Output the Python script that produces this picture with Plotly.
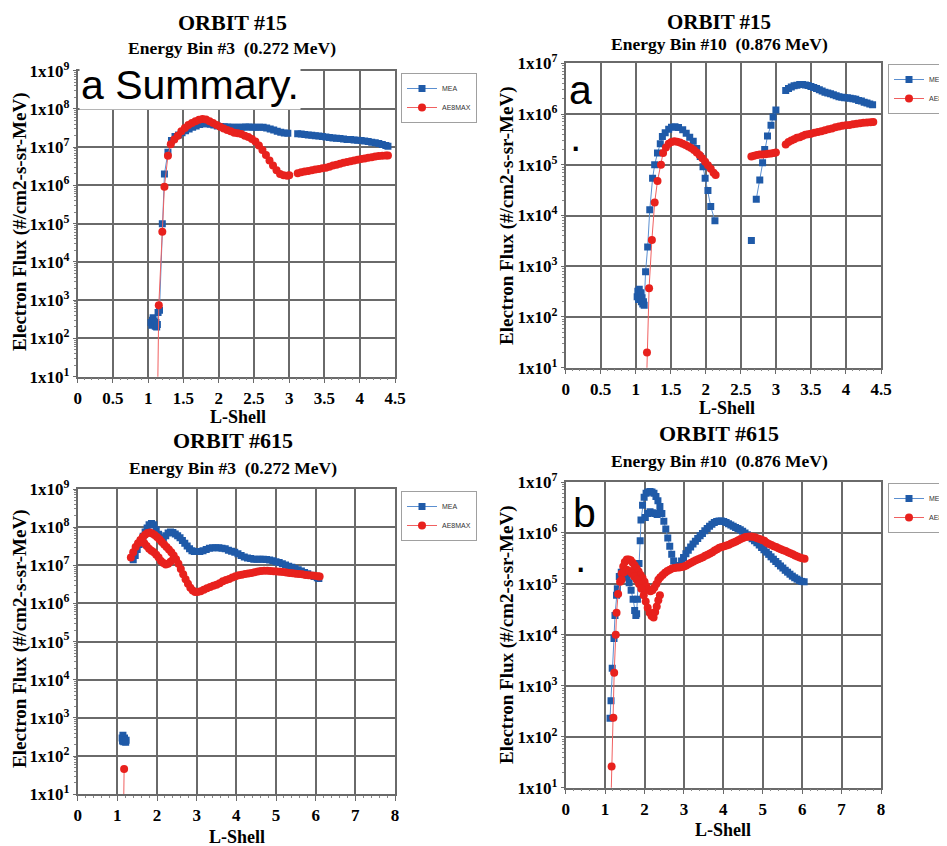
import plotly.graph_objects as go

# ---------------- DATA ----------------
# Panel 1: ORBIT #15, Energy Bin #3 (0.272 MeV)
p1_mea_x = [1.04, 1.05, 1.06, 1.07, 1.08, 1.09, 1.10, 1.11, 1.12, 1.13, 1.14, 1.16, 1.20, 1.23, 1.28,
            1.33, 1.38, 1.43, 1.48, 1.53, 1.58, 1.63, 1.68, 1.73, 1.78, 1.83, 1.88, 1.93, 1.98, 2.03,
            2.08, 2.13, 2.18, 2.23, 2.28, 2.33, 2.38, 2.43, 2.48, 2.53, 2.58, 2.63, 2.68, 2.73, 2.78,
            2.83, 2.88, 2.93, 2.98, None,
            3.12, 3.17, 3.22, 3.27, 3.32, 3.37, 3.42, 3.47, 3.52, 3.57, 3.62, 3.67, 3.72, 3.77, 3.82,
            3.87, 3.92, 3.97, 4.02, 4.07, 4.12, 4.17, 4.22, 4.27, 4.32, 4.37, 4.40]
p1_mea_y = [260, 220, 300, 350, 280, 230, 210, 260, 200, 230, 480, 550, 1.0e5, 2.0e6, 7.4e6,
            1.5e7, 1.9e7, 2.1e7, 2.4e7, 2.7e7, 3.0e7, 3.3e7, 3.6e7, 3.9e7, 4.1e7, 4.1e7, 4.0e7, 3.8e7, 3.6e7, 3.5e7,
            3.4e7, 3.35e7, 3.3e7, 3.3e7, 3.3e7, 3.3e7, 3.35e7, 3.35e7, 3.3e7, 3.3e7, 3.3e7, 3.3e7, 3.2e7, 3.0e7, 2.8e7,
            2.6e7, 2.45e7, 2.35e7, 2.3e7, None,
            2.25e7, 2.2e7, 2.15e7, 2.1e7, 2.05e7, 2.0e7, 1.95e7, 1.9e7, 1.85e7, 1.8e7, 1.75e7, 1.72e7, 1.68e7, 1.65e7, 1.6e7,
            1.58e7, 1.55e7, 1.52e7, 1.5e7, 1.45e7, 1.4e7, 1.35e7, 1.3e7, 1.25e7, 1.18e7, 1.1e7, 1.06e7]
p1_ae8_x = [1.13, 1.15, 1.20, 1.23, 1.28, 1.32, 1.37, 1.42, 1.47, 1.52, 1.57, 1.62, 1.67, 1.72, 1.77,
            1.82, 1.87, 1.92, 1.97, 2.02, 2.07, 2.12, 2.17, 2.22, 2.27, 2.32, 2.37, 2.42, 2.47, 2.52,
            2.57, 2.62, 2.67, 2.72, 2.77, 2.82, 2.87, 2.92, 2.97, 3.00, None,
            3.12, 3.17, 3.22, 3.27, 3.32, 3.37, 3.42, 3.47, 3.52, 3.57, 3.62, 3.67, 3.72, 3.77, 3.82,
            3.87, 3.92, 3.97, 4.02, 4.07, 4.12, 4.17, 4.22, 4.27, 4.32, 4.37, 4.40]
p1_ae8_y = [1, 740, 6.2e4, 9.3e5, 6.0e6, 1.2e7, 1.6e7, 2.0e7, 2.6e7, 3.2e7, 3.8e7, 4.3e7, 4.8e7, 5.2e7, 5.5e7,
            5.3e7, 4.8e7, 4.3e7, 3.8e7, 3.4e7, 3.1e7, 2.8e7, 2.6e7, 2.4e7, 2.3e7, 2.2e7, 2.0e7, 1.85e7, 1.65e7, 1.4e7,
            1.1e7, 8.5e6, 6.3e6, 4.5e6, 3.3e6, 2.5e6, 2.0e6, 1.85e6, 1.8e6, 1.85e6, None,
            2.1e6, 2.2e6, 2.3e6, 2.4e6, 2.5e6, 2.6e6, 2.7e6, 2.8e6, 2.9e6, 3.1e6, 3.3e6, 3.5e6, 3.7e6, 3.9e6, 4.1e6,
            4.3e6, 4.5e6, 4.7e6, 4.9e6, 5.1e6, 5.3e6, 5.5e6, 5.7e6, 5.9e6, 6.0e6, 6.1e6, 6.1e6]

# Panel 2: ORBIT #15, Energy Bin #10 (0.876 MeV)
p2_mea_x = [1.02, 1.03, 1.04, 1.05, 1.06, 1.07, 1.08, 1.09, 1.10, 1.11, 1.12, 1.14, 1.17, 1.20, 1.24,
            1.27, 1.31, 1.35, 1.38, 1.42, 1.47, 1.51, 1.56, 1.61, 1.67, 1.72, 1.77, 1.82, 1.87, 1.92,
            1.96, 1.99, 2.03, 2.07, 2.13, None, 2.65, None,
            2.72, 2.77, 2.81, 2.84, 2.88, 2.93, 2.96, 3.00, None,
            3.14, 3.18, 3.22, 3.26, 3.30, 3.34, 3.38, 3.42, 3.46, 3.50, 3.54, 3.58, 3.62, 3.66, 3.70,
            3.74, 3.78, 3.82, 3.86, 3.90, 3.94, 3.98, 4.02, 4.06, 4.10, 4.14, 4.18, 4.22, 4.26, 4.30,
            4.34, 4.38]
p2_mea_y = [250, 320, 220, 350, 260, 300, 200, 240, 180, 200, 170, 780, 2.4e3, 1.3e4, 5.4e4,
            1.0e5, 1.7e5, 2.6e5, 3.6e5, 4.3e5, 5.0e5, 5.5e5, 5.6e5, 5.4e5, 4.9e5, 4.2e5, 3.5e5, 2.9e5, 2.1e5, 1.45e5,
            9.1e4, 5.4e4, 3.1e4, 1.5e4, 7.9e3, None, 3.2e3, None,
            2.1e4, 5.0e4, 1.1e5, 2.0e5, 3.7e5, 6.0e5, 8.7e5, 1.2e6, None,
            2.9e6, 3.2e6, 3.4e6, 3.6e6, 3.7e6, 3.8e6, 3.8e6, 3.75e6, 3.65e6, 3.5e6, 3.35e6, 3.2e6, 3.0e6, 2.85e6, 2.7e6,
            2.6e6, 2.5e6, 2.4e6, 2.3e6, 2.2e6, 2.15e6, 2.1e6, 2.1e6, 2.05e6, 2.0e6, 1.95e6, 1.85e6, 1.8e6, 1.7e6, 1.65e6,
            1.58e6, 1.52e6]
p2_ae8_x = [1.14, 1.16, 1.19, 1.23, 1.27, 1.31, 1.36, 1.39, 1.43, 1.47, 1.51, 1.55, 1.59, 1.63, 1.67,
            1.71, 1.75, 1.79, 1.83, 1.87, 1.91, 1.95, 1.99, 2.03, 2.07, 2.11, 2.14, None,
            2.65, 2.69, 2.73, 2.77, 2.81, 2.85, 2.89, 2.93, 2.97, 3.00, None,
            3.14, 3.18, 3.22, 3.26, 3.30, 3.34, 3.38, 3.42, 3.46, 3.50, 3.55, 3.60, 3.65, 3.70, 3.75,
            3.80, 3.85, 3.90, 3.95, 4.00, 4.05, 4.10, 4.15, 4.20, 4.25, 4.30, 4.35, 4.39]
p2_ae8_y = [1, 20, 370, 3.3e3, 1.8e4, 4.8e4, 1.0e5, 1.7e5, 2.2e5, 2.6e5, 2.8e5, 2.9e5, 2.85e5, 2.75e5, 2.6e5,
            2.45e5, 2.3e5, 2.15e5, 1.95e5, 1.75e5, 1.55e5, 1.35e5, 1.15e5, 9.8e4, 8.3e4, 7.0e4, 6.3e4, None,
            1.45e5, 1.5e5, 1.55e5, 1.6e5, 1.6e5, 1.62e5, 1.65e5, 1.67e5, 1.7e5, 1.75e5, None,
            2.5e5, 2.8e5, 3.0e5, 3.2e5, 3.4e5, 3.5e5, 3.7e5, 3.9e5, 4.0e5, 4.1e5, 4.3e5, 4.4e5, 4.6e5, 4.8e5, 5.0e5,
            5.2e5, 5.5e5, 5.7e5, 5.9e5, 6.0e5, 6.1e5, 6.3e5, 6.4e5, 6.6e5, 6.7e5, 6.8e5, 6.9e5, 7.0e5]

# Panel 3: ORBIT #615, Energy Bin #3 (0.272 MeV)
p3_mea_x = [1.12, 1.13, 1.14, 1.15, 1.16, 1.18, 1.19, 1.21, 1.22, None,
            1.40, 1.45, 1.50, 1.55, 1.60, 1.65, 1.70, 1.75, 1.80, 1.86, 1.92, 1.98, 2.04, 2.10, 2.16,
            2.22, 2.28, 2.34, 2.40, 2.46, 2.52, 2.58, 2.64, 2.70, 2.76, 2.82, 2.88, 2.94, 3.00, 3.08,
            3.16, 3.24, 3.32, 3.40, 3.48, 3.56, 3.64, 3.72, 3.80, 3.88, 3.96, 4.04, 4.12, 4.20, 4.28,
            4.36, 4.44, 4.52, 4.60, 4.68, 4.76, 4.84, 4.92, 5.00, 5.08, 5.16, 5.24, 5.32, 5.40, 5.48,
            5.56, 5.64, 5.72, 5.80, 5.88, 5.96, 6.04, 6.08]
p3_mea_y = [300, 250, 350, 280, 240, 300, 260, 230, 260, None,
            1.4e7, 1.8e7, 2.6e7, 3.5e7, 4.5e7, 5.8e7, 7.5e7, 9.5e7, 1.15e8, 1.25e8, 1.15e8, 8.5e7, 6.5e7, 5.3e7, 5.1e7,
            6.0e7, 7.0e7, 7.5e7, 7.2e7, 6.6e7, 6.0e7, 5.3e7, 4.5e7, 3.8e7, 3.2e7, 2.7e7, 2.4e7, 2.3e7, 2.3e7, 2.3e7,
            2.4e7, 2.6e7, 2.8e7, 2.9e7, 2.9e7, 2.9e7, 2.8e7, 2.7e7, 2.5e7, 2.35e7, 2.2e7, 2.0e7, 1.8e7, 1.65e7, 1.55e7,
            1.5e7, 1.45e7, 1.45e7, 1.45e7, 1.45e7, 1.42e7, 1.38e7, 1.32e7, 1.25e7, 1.18e7, 1.1e7, 1.02e7, 9.5e6, 8.9e6, 8.3e6,
            7.7e6, 7.1e6, 6.5e6, 6.0e6, 5.5e6, 5.1e6, 4.7e6, 4.5e6]
p3_ae8_x = [1.15, 1.17, None,
            1.34, 1.40, 1.46, 1.52, 1.58, 1.64, 1.70, 1.76, 1.82, 1.88, 1.94, 2.00, 2.06, 2.12, 2.18,
            2.24, 2.30, 2.36, 2.42, 2.48, 2.54, 2.60, 2.66, 2.72, 2.78, 2.84, 2.90, 2.96, 3.02, 3.10,
            3.18, 3.26, 3.34, 3.42, 3.50, 3.58, 3.66, 3.74, 3.82, 3.90, 3.98, 4.06, 4.14, 4.22, 4.30,
            4.38, 4.46, 4.54, 4.62, 4.70, 4.78, 4.86, 4.94, 5.02, 5.10, 5.18, 5.26, 5.34, 5.42, 5.50,
            5.58, 5.66, 5.74, 5.82, 5.90, 5.98, 6.06, 6.10, None,
            1.62, 1.68, 1.74, 1.80, 1.86, 1.92, 1.98, 2.04, 2.10, 2.16, 2.22, 2.28, 2.34, 2.40]
p3_ae8_y = [1, 46, None,
            1.6e7, 2.2e7, 3.0e7, 3.8e7, 4.6e7, 5.5e7, 6.3e7, 7.0e7, 7.2e7, 6.8e7, 6.2e7, 5.5e7, 4.8e7, 4.1e7, 3.5e7,
            3.0e7, 2.6e7, 2.2e7, 1.8e7, 1.45e7, 1.1e7, 8.0e6, 5.8e6, 4.3e6, 3.3e6, 2.6e6, 2.2e6, 2.0e6, 2.0e6, 2.1e6,
            2.3e6, 2.5e6, 2.7e6, 2.9e6, 3.1e6, 3.4e6, 3.8e6, 4.1e6, 4.4e6, 4.8e6, 5.2e6, 5.5e6, 5.7e6, 5.9e6, 6.1e6,
            6.3e6, 6.6e6, 6.9e6, 7.1e6, 7.2e6, 7.2e6, 7.1e6, 7.0e6, 6.9e6, 6.8e6, 6.7e6, 6.5e6, 6.3e6, 6.2e6, 6.0e6,
            5.9e6, 5.8e6, 5.6e6, 5.5e6, 5.4e6, 5.3e6, 5.2e6, 5.1e6, None,
            4.2e7, 3.8e7, 3.2e7, 2.7e7, 2.4e7, 2.2e7, 1.9e7, 1.6e7, 1.3e7, 1.15e7, 1.05e7, 1.1e7, 1.25e7, 1.4e7]

# Panel 4: ORBIT #615, Energy Bin #10 (0.876 MeV)
p4_mea_x = [1.125, 1.15, 1.18, 1.225, 1.25, 1.29, 1.31, 1.36, 1.41, 1.46, 1.51, 1.56, 1.61, 1.66, 1.71,
            1.75, 1.78, 1.80, 1.82, 1.86, 1.89, 1.91, 1.95, 1.99, 2.04, 2.09, 2.14, 2.19, 2.24, 2.29,
            2.34, 2.39, 2.44, 2.49, 2.54, 2.59, 2.64, 2.69, 2.74, 2.79, 2.84, 2.89, 2.94, 2.99, 3.05,
            3.11, 3.17, 3.23, 3.29, 3.35, 3.41, 3.47, 3.53, 3.59, 3.65, 3.71, 3.77, 3.83, 3.89, 3.95,
            4.01, 4.07, 4.13, 4.19, 4.25, 4.31, 4.37, 4.43, 4.49, 4.55, 4.61, 4.67, 4.73, 4.79, 4.85,
            4.91, 4.97, 5.03, 5.09, 5.15, 5.21, 5.27, 5.33, 5.39, 5.45, 5.51, 5.57, 5.63, 5.69, 5.75,
            5.81, 5.87, 5.93, 5.99, 6.05, None,
            2.02, 2.08, 2.14, 2.20, 2.26, 2.32, 2.38]
p4_mea_y = [230, 510, 2.2e3, 8.5e3, 2.4e4, 6.0e4, 8.0e4, 1.4e5, 1.7e5, 1.75e5, 1.6e5, 1.35e5, 1.05e5, 7.5e4, 5.0e4,
            3.0e4, 2.4e4, 2.6e4, 5.0e4, 2.5e5, 7.0e5, 1.8e6, 3.5e6, 5.0e6, 6.0e6, 6.4e6, 6.5e6, 6.4e6, 6.0e6, 5.2e6,
            4.3e6, 3.3e6, 2.4e6, 1.7e6, 1.2e6, 8.0e5, 5.5e5, 3.8e5, 2.8e5, 2.3e5, 2.1e5, 2.3e5, 2.8e5, 3.3e5, 3.9e5,
            4.6e5, 5.3e5, 6.1e5, 6.9e5, 7.8e5, 8.8e5, 9.8e5, 1.1e6, 1.22e6, 1.35e6, 1.48e6, 1.6e6, 1.68e6, 1.72e6, 1.72e6,
            1.68e6, 1.6e6, 1.52e6, 1.43e6, 1.35e6, 1.28e6, 1.22e6, 1.15e6, 1.08e6, 1.0e6, 9.2e5, 8.4e5, 7.7e5, 7.0e5, 6.4e5,
            5.8e5, 5.2e5, 4.7e5, 4.2e5, 3.8e5, 3.4e5, 3.05e5, 2.75e5, 2.5e5, 2.25e5, 2.05e5, 1.85e5, 1.7e5, 1.55e5, 1.42e5,
            1.32e5, 1.24e5, 1.17e5, 1.12e5, 1.1e5, None,
            2.0e6, 2.4e6, 2.6e6, 2.5e6, 2.4e6, 2.3e6, 2.4e6]
p4_ae8_x = [1.125, 1.165, 1.21, 1.23, 1.27, 1.29, 1.33, 1.38, 1.42, 1.46, 1.50, 1.55, 1.60, 1.65, 1.70,
            1.75, 1.80, 1.85, 1.90, 1.95, 2.00, 2.05, 2.10, 2.15, 2.20, 2.25, 2.30, 2.35, 2.40, 2.46,
            2.52, 2.58, 2.64, 2.70, 2.76, 2.82, 2.88, 2.94, 3.00, 3.06, 3.12, 3.18, 3.24, 3.30, 3.36,
            3.42, 3.48, 3.54, 3.60, 3.66, 3.72, 3.78, 3.84, 3.90, 3.96, 4.02, 4.08, 4.14, 4.20, 4.26,
            4.32, 4.38, 4.44, 4.50, 4.56, 4.62, 4.68, 4.74, 4.80, 4.86, 4.92, 4.98, 5.04, 5.10, 5.16,
            5.22, 5.28, 5.34, 5.40, 5.46, 5.52, 5.58, 5.64, 5.70, 5.76, 5.82, 5.88, 5.94, 6.00, 6.06, None,
            1.42, 1.48, 1.55, 1.62, 1.68, 1.74, 1.80, 1.86, 1.92, 1.98, 2.03, 2.08, 2.13, 2.18, 2.23,
            2.27, 2.31, 2.35, 2.39]
p4_ae8_y = [1, 26, 235, 1.8e3, 1.0e4, 2.7e4, 6.3e4, 1.1e5, 1.6e5, 2.2e5, 2.7e5, 3.0e5, 3.0e5, 2.9e5, 2.6e5,
            2.3e5, 2.0e5, 1.75e5, 1.5e5, 1.3e5, 1.1e5, 9.0e4, 7.8e4, 7.2e4, 7.5e4, 8.5e4, 1.0e5, 1.2e5, 1.35e5, 1.5e5,
            1.65e5, 1.8e5, 1.9e5, 2.0e5, 2.05e5, 2.1e5, 2.1e5, 2.15e5, 2.2e5, 2.3e5, 2.45e5, 2.6e5, 2.75e5, 2.9e5, 3.05e5,
            3.2e5, 3.35e5, 3.55e5, 3.75e5, 3.95e5, 4.2e5, 4.5e5, 4.8e5, 5.1e5, 5.3e5, 5.5e5, 5.7e5, 5.9e5, 6.2e5, 6.5e5,
            6.8e5, 7.2e5, 7.6e5, 8.0e5, 8.3e5, 8.4e5, 8.5e5, 8.4e5, 8.2e5, 7.9e5, 7.6e5, 7.3e5, 7.0e5, 6.4e5, 6.1e5,
            5.8e5, 5.5e5, 5.3e5, 5.0e5, 4.8e5, 4.6e5, 4.4e5, 4.2e5, 4.0e5, 3.8e5, 3.6e5, 3.45e5, 3.3e5, 3.2e5, 3.1e5, None,
            1.2e5, 1.7e5, 1.9e5, 1.8e5, 1.6e5, 1.4e5, 1.2e5, 1.0e5, 8.0e4, 6.0e4, 4.5e4, 3.4e4, 2.7e4, 2.35e4, 2.2e4,
            2.8e4, 3.6e4, 4.8e4, 6.0e4]

orbit_titles = ["ORBIT #15", "ORBIT #15", "ORBIT #615", "ORBIT #615"]
energy_titles = ["Energy Bin #3  (0.272 MeV)", "Energy Bin #10  (0.876 MeV)",
                 "Energy Bin #3  (0.272 MeV)", "Energy Bin #10  (0.876 MeV)"]
series_names = ["MEA", "AE8MAX"]
y_tick_exps_a = [1, 2, 3, 4, 5, 6, 7, 8, 9]
y_tick_exps_b = [1, 2, 3, 4, 5, 6, 7]
x_ticks_a = [0, 0.5, 1, 1.5, 2, 2.5, 3, 3.5, 4, 4.5]
x_ticks_b = [0, 1, 2, 3, 4, 5, 6, 7, 8]
# overlay labels: (text, left px, centre py, white background)
panel_labels = [
    [("a Summary.", 79, 85, True)],
    [("a", 567, 90, False), (".", 568, 137, False)],
    [],
    [("b", 571, 513, False), (".", 573, 558, False)],
]

# ---------------- STYLE / LAYOUT ----------------
# The page body has an 8 px default margin, so the figure is 8 px smaller
# and all reference pixel positions are shifted by 8 px.
OFF = 8
W, H = 947 - OFF, 846 - OFF
BLUE = "#1f5aa8"
BLUE_L = "#5b8fd0"
RED = "#e8211d"
RED_L = "#f06060"
GRID = "#6a6a6a"
SERIF = "Liberation Serif"

def fx(px):
    return (px - OFF) / W

def fy(py):
    return 1 - (py - OFF) / H

panels = [
    dict(x0=77.7, x1=395.0, y0=70.7, y1=376.7, xt=x_ticks_a, xr=[0, 4.5], yt=y_tick_exps_a, yr=[1, 9],
         mea=(p1_mea_x, p1_mea_y), ae8=(p1_ae8_x, p1_ae8_y), minor=0.1),
    dict(x0=565.7, x1=881.0, y0=63.3, y1=367.7, xt=x_ticks_a, xr=[0, 4.5], yt=y_tick_exps_b, yr=[1, 7],
         mea=(p2_mea_x, p2_mea_y), ae8=(p2_ae8_x, p2_ae8_y), minor=0.1),
    dict(x0=77.7, x1=395.0, y0=489.0, y1=794.3, xt=x_ticks_b, xr=[0, 8], yt=y_tick_exps_a, yr=[1, 9],
         mea=(p3_mea_x, p3_mea_y), ae8=(p3_ae8_x, p3_ae8_y), minor=0.2),
    dict(x0=565.7, x1=881.0, y0=482.0, y1=787.7, xt=x_ticks_b, xr=[0, 8], yt=y_tick_exps_b, yr=[1, 7],
         mea=(p4_mea_x, p4_mea_y), ae8=(p4_ae8_x, p4_ae8_y), minor=0.2),
]
legend_pos = [(401, 73), (888, 64), (401, 491), (888, 483)]
title_pos = [(232, 22, 48, 22), (719, 22, 44, 21), (233, 440, 468, 22), (719, 433, 461, 22)]
ytitle_pos = [(20, 222), (507, 215), (20, 639), (507, 634)]
xtitle_pos = [(238, 417), (727, 408), (237, 837), (723, 830)]

fig = go.Figure()
layout = dict(width=W, height=H, autosize=False,
              margin=dict(l=0, r=0, t=0, b=0, autoexpand=False),
              paper_bgcolor="white", plot_bgcolor="white", showlegend=True)
annotations = []

for i, p in enumerate(panels):
    k = "" if i == 0 else str(i + 1)
    xa, ya = "x" + k, "y" + k
    lg = "legend" + k
    fig.add_trace(go.Scatter(x=p["mea"][0], y=p["mea"][1], name=series_names[0], mode="lines+markers",
                             xaxis=xa, yaxis=ya, legend=lg, connectgaps=False,
                             line=dict(color=BLUE_L, width=1),
                             marker=dict(symbol="square", size=7, color=BLUE)))
    fig.add_trace(go.Scatter(x=p["ae8"][0], y=p["ae8"][1], name=series_names[1], mode="lines+markers",
                             xaxis=xa, yaxis=ya, legend=lg, connectgaps=False,
                             line=dict(color=RED_L, width=1),
                             marker=dict(symbol="circle", size=8, color=RED)))
    layout["xaxis" + k] = dict(
        domain=[fx(p["x0"]), fx(p["x1"])], anchor=ya, range=p["xr"],
        tickvals=p["xt"], ticktext=[("%g" % v) for v in p["xt"]],
        showgrid=True, gridcolor=GRID, gridwidth=1.5, zeroline=False,
        showline=True, linecolor=GRID, linewidth=1.5, mirror=True,
        ticks="outside", ticklen=5, tickcolor=GRID,
        minor=dict(dtick=p["minor"], ticks="outside", ticklen=2, tickcolor="#888", showgrid=False),
        tickfont=dict(family=SERIF, size=17, color="black", weight="bold"))
    layout["yaxis" + k] = dict(
        domain=[fy(p["y1"]), fy(p["y0"])], anchor=xa, type="log", range=p["yr"],
        tickvals=[10 ** e for e in p["yt"]], ticktext=["1x10<sup>%d</sup>" % e for e in p["yt"]],
        showgrid=True, gridcolor=GRID, gridwidth=1.5, zeroline=False,
        showline=True, linecolor=GRID, linewidth=1.5, mirror=True,
        ticks="outside", ticklen=3, tickcolor=GRID,
        minor=dict(dtick="D1", ticks="outside", ticklen=2, tickcolor="#888", showgrid=False),
        tickfont=dict(family=SERIF, size=17, color="black", weight="bold"))
    lx, ly = legend_pos[i]
    layout[lg] = dict(x=fx(lx), y=fy(ly), xanchor="left", yanchor="top", xref="paper", yref="paper",
                      bgcolor="white", bordercolor="#a0a0a0", borderwidth=1,
                      font=dict(family="Liberation Sans", size=7, color="#333"),
                      itemwidth=30, tracegroupgap=0)
    tx, ty1, ty2, tsz = title_pos[i]
    annotations.append(dict(text=orbit_titles[i], x=fx(tx), y=fy(ty1), xref="paper", yref="paper",
                            showarrow=False, xanchor="center", yanchor="middle",
                            font=dict(family=SERIF, size=tsz, color="black", weight="bold")))
    annotations.append(dict(text=energy_titles[i], x=fx(tx), y=fy(ty2), xref="paper", yref="paper",
                            showarrow=False, xanchor="center", yanchor="middle",
                            font=dict(family=SERIF, size=17.5, color="black", weight="bold")))
    yx, yy = ytitle_pos[i]
    annotations.append(dict(text="Electron Flux (#/cm2-s-sr-MeV)", x=fx(yx), y=fy(yy), xref="paper",
                            yref="paper", showarrow=False, textangle=-90, xanchor="center", yanchor="middle",
                            font=dict(family=SERIF, size=19, color="black", weight="bold")))
    xx, xy = xtitle_pos[i]
    annotations.append(dict(text="L-Shell", x=fx(xx), y=fy(xy), xref="paper", yref="paper",
                            showarrow=False, xanchor="center", yanchor="middle",
                            font=dict(family=SERIF, size=18, color="black", weight="bold")))
    for (txt, px, py, bg) in panel_labels[i]:
        annotations.append(dict(text=txt, x=fx(px), y=fy(py), xref="paper", yref="paper",
                                showarrow=False, xanchor="left", yanchor="middle", align="left",
                                bgcolor="white" if bg else "rgba(0,0,0,0)", borderpad=1,
                                font=dict(family="Liberation Sans", size=41, color="black")))

layout["annotations"] = annotations
fig.update_layout(**layout)
fig.write_html("out.html")
